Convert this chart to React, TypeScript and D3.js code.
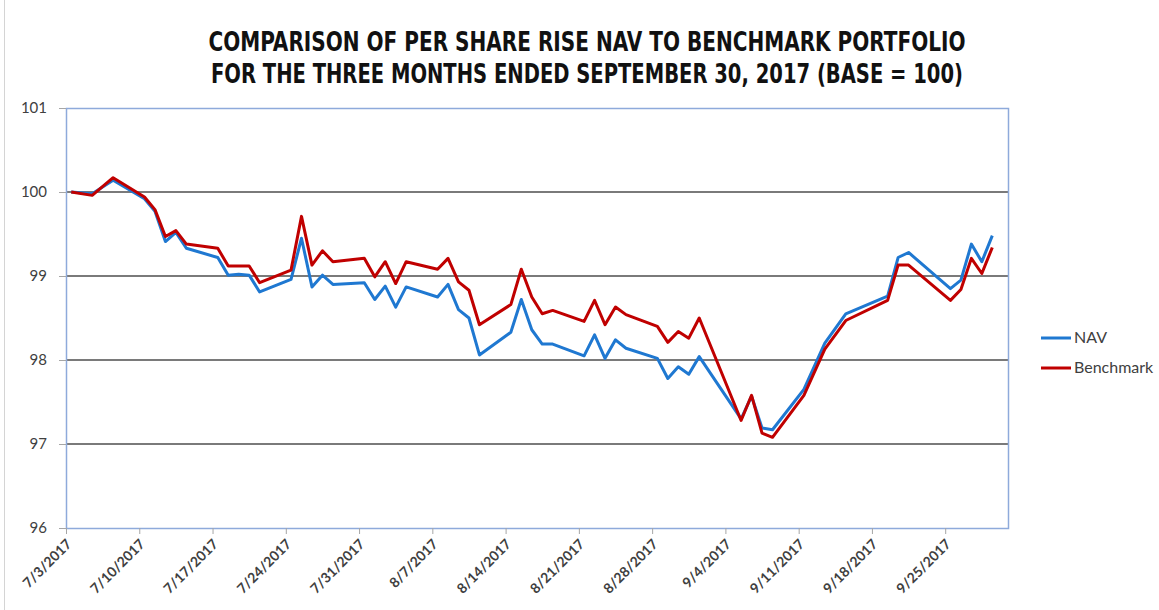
import { useRef, useEffect } from 'react'
import * as d3 from 'd3'

const TITLE_LINES = [
  'COMPARISON OF PER SHARE RISE NAV TO BENCHMARK PORTFOLIO',
  'FOR THE THREE MONTHS ENDED SEPTEMBER 30, 2017 (BASE = 100)'
]

const dates = [
  '2017-07-03', '2017-07-05', '2017-07-07', '2017-07-10', '2017-07-11', '2017-07-12',
  '2017-07-13', '2017-07-14', '2017-07-17', '2017-07-18', '2017-07-19', '2017-07-20',
  '2017-07-21', '2017-07-24', '2017-07-25', '2017-07-26', '2017-07-27', '2017-07-28',
  '2017-07-31', '2017-08-01', '2017-08-02', '2017-08-03', '2017-08-04', '2017-08-07',
  '2017-08-08', '2017-08-09', '2017-08-10', '2017-08-11', '2017-08-14', '2017-08-15',
  '2017-08-16', '2017-08-17', '2017-08-18', '2017-08-21', '2017-08-22', '2017-08-23',
  '2017-08-24', '2017-08-25', '2017-08-28', '2017-08-29', '2017-08-30', '2017-08-31',
  '2017-09-01', '2017-09-05', '2017-09-06', '2017-09-07', '2017-09-08', '2017-09-11',
  '2017-09-13', '2017-09-15', '2017-09-19', '2017-09-20', '2017-09-21', '2017-09-25',
  '2017-09-26', '2017-09-27', '2017-09-28', '2017-09-29'
]

const navValues = [
  100.00, 99.98, 100.14, 99.92, 99.77, 99.41,
  99.52, 99.33, 99.22, 99.01, 99.02, 99.01,
  98.81, 98.96, 99.45, 98.87, 99.01, 98.90,
  98.92, 98.72, 98.88, 98.63, 98.87, 98.75,
  98.90, 98.60, 98.50, 98.06, 98.33, 98.72,
  98.36, 98.19, 98.19, 98.05, 98.30, 98.02,
  98.24, 98.14, 98.02, 97.78, 97.92, 97.83,
  98.04, 97.30, 97.57, 97.19, 97.17, 97.65,
  98.20, 98.55, 98.76, 99.22, 99.28, 98.85,
  98.95, 99.38, 99.17, 99.48
]

const benchmarkValues = [
  100.00, 99.96, 100.17, 99.94, 99.79, 99.47,
  99.54, 99.38, 99.33, 99.12, 99.12, 99.12,
  98.92, 99.07, 99.71, 99.13, 99.30, 99.17,
  99.21, 98.99, 99.17, 98.91, 99.17, 99.08,
  99.21, 98.93, 98.83, 98.42, 98.66, 99.08,
  98.75, 98.55, 98.59, 98.46, 98.71, 98.42,
  98.63, 98.54, 98.40, 98.21, 98.34, 98.26,
  98.50, 97.28, 97.58, 97.13, 97.08, 97.58,
  98.13, 98.47, 98.71, 99.13, 99.13, 98.71,
  98.84, 99.21, 99.03, 99.34
]

const yTicks = [96, 97, 98, 99, 100, 101]
const gridValues = [97, 98, 99, 100]

const seriesNames = ['NAV', 'Benchmark']
const seriesColors = ['#1f78d1', '#c00000']

function App() {
  const containerRef = useRef<HTMLDivElement>(null)

  useEffect(() => {
    if (!containerRef.current) return
    const container = containerRef.current
    container.innerHTML = ''

    const width = 1159
    const height = 610
    const plot = { left: 66, right: 1008, top: 108, bottom: 528 }
    const labelFont = 'Lato, "Open Sans", sans-serif'

    const svg = d3.select(container)
      .append('svg')
      .attr('width', width)
      .attr('height', height)
      .style('position', 'absolute')
      .style('left', '0px')
      .style('top', '0px')
      .style('background', '#fff')

    const parseDate = d3.timeParse('%Y-%m-%d')
    const parsed = dates.map(d => parseDate(d)!)

    const x = d3.scaleTime()
      .domain([new Date(2017, 6, 3), new Date(2017, 9, 1)])
      .range([plot.left, plot.right])

    const y = d3.scaleLinear()
      .domain([96, 101])
      .range([plot.bottom, plot.top])

    // chart area edge
    svg.append('line')
      .attr('x1', 4.5).attr('x2', 4.5)
      .attr('y1', 0).attr('y2', height)
      .attr('stroke', '#d4d4d4')

    // title
    const title = svg.append('text')
      .attr('text-anchor', 'middle')
      .attr('font-family', '"Liberation Sans Narrow", "DejaVu Sans Condensed", "Open Sans", sans-serif')
      .attr('font-weight', 'bold')
      .attr('font-size', '26px')
      .attr('fill', '#111')
    TITLE_LINES.forEach((t, i) => {
      title.append('tspan')
        .attr('x', 587)
        .attr('y', 51 + i * 32)
        .attr('textLength', i === 0 ? 757 : 752)
        .attr('lengthAdjust', 'spacingAndGlyphs')
        .text(t)
    })

    // gridlines
    svg.append('g')
      .selectAll('line')
      .data(gridValues)
      .enter()
      .append('line')
      .attr('x1', plot.left)
      .attr('x2', plot.right)
      .attr('y1', d => y(d))
      .attr('y2', d => y(d))
      .attr('stroke', '#7a7a7a')
      .attr('stroke-width', 2)

    // plot border
    svg.append('rect')
      .attr('x', plot.left + 0.5)
      .attr('y', plot.top + 0.5)
      .attr('width', plot.right - plot.left)
      .attr('height', plot.bottom - plot.top)
      .attr('fill', 'none')
      .attr('stroke', '#8eaadb')
      .attr('stroke-width', 1.5)

    // Y axis
    const yAxis = svg.append('g')
      .attr('transform', `translate(${plot.left},0)`)
      .call(d3.axisLeft(y).tickValues(yTicks).tickSize(7).tickPadding(12).tickFormat(d3.format('d')))
    yAxis.select('.domain').remove()
    yAxis.selectAll('line').attr('stroke', '#a6a6a6')
    yAxis.selectAll('text')
      .attr('font-family', labelFont)
      .attr('font-size', '15px')
      .attr('fill', '#404040')

    // X axis
    const xAxis = svg.append('g')
      .attr('transform', `translate(0,${plot.bottom})`)
      .call(d3.axisBottom(x)
        .tickValues(d3.timeMonday.range(new Date(2017, 6, 3), new Date(2017, 9, 1)))
        .tickSize(6)
        .tickFormat(d3.timeFormat('%-m/%-d/%Y') as any))
    xAxis.select('.domain').remove()
    xAxis.selectAll('line').attr('stroke', '#a6a6a6')
    xAxis.selectAll('text')
      .attr('font-family', labelFont)
      .attr('font-size', '14px')
      .attr('font-weight', 'bold')
      .attr('fill', '#404040')
      .attr('text-anchor', 'end')
      .attr('dy', null)
      .attr('y', 0)
      .attr('transform', 'translate(6,17) rotate(-45)')

    // series lines
    const seriesData = [navValues, benchmarkValues]
    const line = d3.line<number>()
      .x((_, i) => x(d3.timeHour.offset(parsed[i], 12)))
      .y(d => y(d))

    seriesData.forEach((values, s) => {
      svg.append('path')
        .datum(values)
        .attr('d', line)
        .attr('fill', 'none')
        .attr('stroke', seriesColors[s])
        .attr('stroke-width', 3)
        .attr('stroke-linejoin', 'round')
    })

    // legend
    const legend = svg.append('g')
    seriesNames.forEach((name, i) => {
      const ly = 338 + i * 30
      legend.append('line')
        .attr('x1', 1041).attr('x2', 1071)
        .attr('y1', ly).attr('y2', ly)
        .attr('stroke', seriesColors[i])
        .attr('stroke-width', 3)
      legend.append('text')
        .attr('x', 1074)
        .attr('y', ly + 5)
        .attr('font-family', labelFont)
        .attr('font-size', '16px')
        .attr('fill', '#404040')
        .text(name)
    })
  }, [])

  return <div ref={containerRef} />
}

export default App
